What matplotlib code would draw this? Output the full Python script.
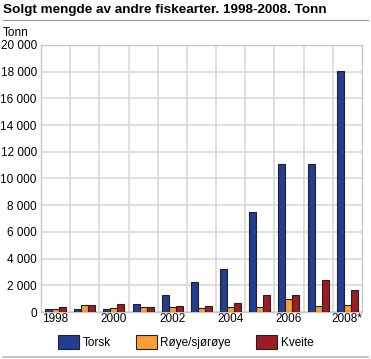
import numpy as np
import matplotlib
matplotlib.use("Agg")
import matplotlib.pyplot as plt
from matplotlib.patches import Patch
from matplotlib.lines import Line2D

plt.rcParams['font.family'] = ['Liberation Sans', 'DejaVu Sans']

# Data (tonn)
years = ['1998', '1999', '2000', '2001', '2002', '2003', '2004', '2005', '2006', '2007', '2008*']
torsk = [250, 200, 230, 600, 1300, 2220, 3250, 7500, 11100, 11100, 18050]
roye = [230, 530, 330, 400, 380, 330, 400, 400, 950, 450, 560]
kveite = [350, 500, 600, 400, 480, 480, 700, 1260, 1240, 2380, 1670]
series_names = ['Torsk', 'Røye/sjørøye', 'Kveite']
colors = ['#223d92', '#f8a035', '#9c1c22']

fig = plt.figure(figsize=(3.71, 3.59), dpi=100)
ax = fig.add_axes([0.1105, 0.1309, 0.865, 0.7438])

x = np.arange(len(years))
w = 0.24
for i, (vals, c) in enumerate(zip([torsk, roye, kveite], colors)):
    ax.bar(x + (i - 1) * w, vals, width=w, color=c, edgecolor='#222222',
           linewidth=0.8, zorder=3)

ax.set_xlim(-0.5, len(years) - 0.5)
ax.set_ylim(0, 20000)
ax.set_yticks(np.arange(0, 20001, 2000))
ax.set_yticklabels([f"{v:,}".replace(',', ' ') for v in range(0, 20001, 2000)], fontsize=8.5)
ax.set_xticks(x[::2])
ax.set_xticklabels(years[::2], fontsize=8.5)
ax.set_xticks(x[:-1] + 0.5, minor=True)
ax.tick_params(axis='both', which='both', length=0, pad=1)
ax.tick_params(axis='y', pad=3)

ax.grid(axis='y', color='#d9d9d9', linewidth=1.2, zorder=0)
ax.grid(axis='x', which='minor', color='#d9d9d9', linewidth=1.2, zorder=0)
for s in ax.spines.values():
    s.set_color('#c8c8c8')
    s.set_linewidth(1.0)

fig.text(0.008, 0.972, 'Solgt mengde av andre fiskearter. 1998-2008. Tonn',
         fontsize=9.7, fontweight='bold', va='center', ha='left')
fig.add_artist(Line2D([0.008, 0.992], [0.944, 0.944], color='#999999', linewidth=0.8))
fig.add_artist(Line2D([0.008, 0.992], [0.006, 0.006], color='#bbbbbb', linewidth=1.2))
fig.text(0.008, 0.908, 'Tonn', fontsize=8.5, va='center', ha='left')

handles = [Patch(facecolor=c, edgecolor='#222222', linewidth=0.8) for c in colors]
fig.legend(handles, series_names, loc='center', bbox_to_anchor=(0.5, 0.047), ncol=3,
           frameon=False, fontsize=8.5, handlelength=1.8, handleheight=1.5,
           handletextpad=0.3, columnspacing=2.1)

fig.savefig('out.png', dpi=100)
